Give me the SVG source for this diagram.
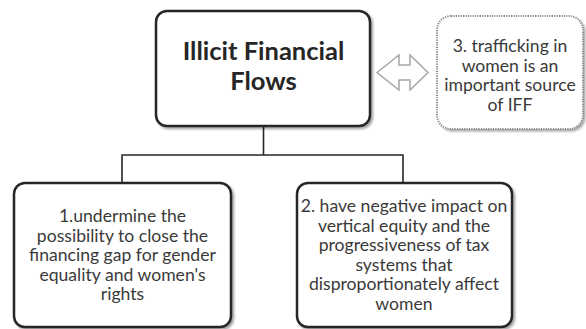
<svg xmlns="http://www.w3.org/2000/svg" width="586" height="329" viewBox="0 0 586 329">
<defs>
<filter id="sh" x="-10%" y="-10%" width="125%" height="125%">
<feGaussianBlur in="SourceAlpha" stdDeviation="1.2"/>
<feOffset dx="1.5" dy="1.5" result="b"/>
<feComponentTransfer><feFuncA type="linear" slope="0.35"/></feComponentTransfer>
<feMerge><feMergeNode/><feMergeNode in="SourceGraphic"/></feMerge>
</filter>
</defs>
<style>
.box{fill:#fff;stroke:#262626;stroke-width:2.5;filter:url(#sh)}
.dot{fill:#fff;stroke:#8a8a8a;stroke-width:2;stroke-dasharray:1.2 1.2;filter:url(#sh)}
.t{font-family:Lato,"Open Sans","Liberation Sans",sans-serif;font-size:17.6px;fill:#3a3a3a;text-anchor:middle}
.title{font-family:Lato,"Open Sans","Liberation Sans",sans-serif;font-size:25.5px;font-weight:bold;fill:#262626;text-anchor:middle}
.conn{fill:none;stroke:#262626;stroke-width:1.6}
</style>
<g id="connectors">
<path class="conn" d="M263.5,126 V155 M122,183 V155 H403 V183"/>
<path id="double-arrow" d="M377,72.5 L399,55 V65 H410 V55 L428,72.5 L410,90 V80 H399 V90 Z" fill="#fff" stroke="#a6a6a6" stroke-width="1.5"/>
</g>
<g id="node-main">
<rect class="box" x="156" y="11" width="214" height="115" rx="11"/>
<text class="title" x="263.5" y="60">Illicit Financial</text>
<text class="title" x="263.5" y="90">Flows</text>
</g>
<g id="node-3">
<rect class="dot" x="437" y="16" width="146" height="113" rx="14"/>
<text class="t" x="510" y="52">3. trafficking in</text>
<text class="t" x="510" y="71.5">women is an</text>
<text class="t" x="510" y="91">important source</text>
<text class="t" x="510" y="110.5">of IFF</text>
</g>
<g id="node-1">
<rect class="box" x="14" y="183" width="217" height="144" rx="11"/>
<text class="t" x="122.5" y="222">1.undermine the</text>
<text class="t" x="122.5" y="241.5">possibility to close the</text>
<text class="t" x="122.5" y="261">financing gap for gender</text>
<text class="t" x="122.5" y="280.5">equality and women's</text>
<text class="t" x="122.5" y="300">rights</text>
</g>
<g id="node-2">
<rect class="box" x="297" y="183" width="215" height="144" rx="11"/>
<text class="t" x="404" y="212">2. have negative impact on</text>
<text class="t" x="404" y="231.5">vertical equity and the</text>
<text class="t" x="404" y="251">progressiveness of tax</text>
<text class="t" x="404" y="270.5">systems that</text>
<text class="t" x="404" y="290">disproportionately affect</text>
<text class="t" x="404" y="309.5">women</text>
</g>
</svg>
